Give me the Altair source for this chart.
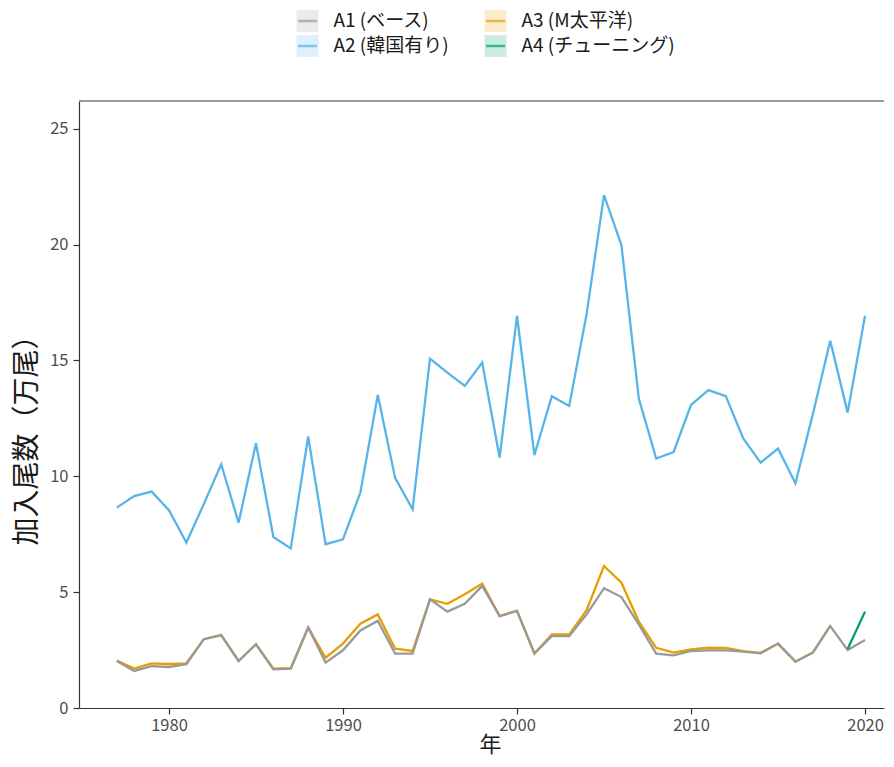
import altair as alt
import pandas as pd

years = list(range(1977, 2021))

names = ["A1 (ベース)", "A2 (韓国有り)", "A3 (M太平洋)", "A4 (チューニング)"]
colors = ["#999999", "#56B4E9", "#E69F00", "#009E73"]

a1 = [2.03, 1.60, 1.81, 1.77, 1.89, 2.97, 3.15, 2.03, 2.75, 1.67,
      1.70, 3.47, 1.96, 2.49, 3.35, 3.76, 2.35, 2.35, 4.69, 4.16,
      4.50, 5.27, 3.97, 4.19, 2.35, 3.10, 3.10, 4.04, 5.17, 4.79,
      3.61, 2.35, 2.27, 2.46, 2.49, 2.49, 2.43, 2.36, 2.78, 2.00,
      2.39, 3.54, 2.50, 2.94]

a2 = [8.65, 9.15, 9.34, 8.54, 7.14, 8.80, 10.52, 8.00, 11.43, 7.38,
      6.89, 11.72, 7.07, 7.28, 9.30, 13.51, 9.92, 8.58, 15.08, 14.48,
      13.90, 14.91, 10.81, 16.93, 10.92, 13.46, 13.04, 17.00, 22.14, 19.98,
      13.36, 10.77, 11.05, 13.08, 13.72, 13.46, 11.64, 10.59, 11.20, 9.70,
      12.68, 15.85, 12.75, 16.93]

a3_years = list(range(1977, 2019))
a3 = [2.05, 1.70, 1.93, 1.90, 1.93, 2.97, 3.15, 2.03, 2.75, 1.70,
      1.72, 3.47, 2.17, 2.78, 3.64, 4.04, 2.56, 2.46, 4.69, 4.50,
      4.91, 5.37, 3.97, 4.19, 2.35, 3.18, 3.18, 4.22, 6.13, 5.41,
      3.73, 2.60, 2.39, 2.53, 2.60, 2.59, 2.45, 2.38, 2.78, 2.00,
      2.39, 3.54]

a4_years = [2019, 2020]
a4 = [2.55, 4.16]

y_ticks = [0, 5, 10, 15, 20, 25]
x_ticks = [1980, 1990, 2000, 2010, 2020]

df1 = pd.DataFrame({"year": years, "value": a1, "series": names[0]})
df2 = pd.DataFrame({"year": years, "value": a2, "series": names[1]})
df3 = pd.DataFrame({"year": a3_years, "value": a3, "series": names[2]})
df4 = pd.DataFrame({"year": a4_years, "value": a4, "series": names[3]})

FONT = "Noto Sans CJK JP"
W = 805
H = 607

color_scale = alt.Scale(domain=names, range=colors)

x_enc = alt.X("year:Q", title="年",
              scale=alt.Scale(domain=[1974.83, 2021.09], nice=False, zero=False),
              axis=alt.Axis(values=x_ticks, format="d", grid=False, titleX=411))
y_enc = alt.Y("value:Q", title="加入尾数（万尾）",
              scale=alt.Scale(domain=[0, 26.2], nice=False, zero=True),
              axis=alt.Axis(values=y_ticks, grid=False, titleY=332))


def line_layer(d):
    return alt.Chart(d).mark_line(strokeWidth=2.3).encode(
        x=x_enc, y=y_enc,
        color=alt.Color("series:N", scale=color_scale, legend=None),
    )


top_rule = alt.Chart(df1).mark_rule(color="#9a9a9a", strokeWidth=1).encode(
    y=alt.value(0)
)

main = alt.layer(
    line_layer(df2), line_layer(df3), line_layer(df1), line_layer(df4), top_rule
).properties(width=W, height=H)

# manual legend (2 columns x 2 rows)
leg = pd.DataFrame({
    "series": names,
    "col": [i // 2 for i in range(len(names))],
    "row": [i % 2 for i in range(len(names))],
})
lx = alt.X("col:Q", axis=None, scale=alt.Scale(domain=[-1.2154, 3.0665], nice=False, zero=False))
ly = alt.Y("row:Q", axis=None, scale=alt.Scale(domain=[-0.52, 1.48], nice=False, zero=False, reverse=True))
lc = alt.Color("series:N", scale=color_scale, legend=None)

leg_box = alt.Chart(leg).mark_square(size=484, opacity=0.2, strokeWidth=0).encode(x=lx, y=ly, color=lc)
leg_line = alt.Chart(leg).mark_tick(orient="horizontal", size=19, thickness=2.5).encode(x=lx, y=ly, color=lc)
leg_text = alt.Chart(leg).mark_text(align="left", baseline="middle", dx=26, fontSize=19,
                                    font=FONT, color="#1a1a1a").encode(x=lx, y=ly, text="series:N")
legend = alt.layer(leg_box, leg_line, leg_text).properties(width=W, height=50)

chart = alt.vconcat(legend, main, spacing=42).properties(
    padding={"left": 5, "top": 0, "right": 0, "bottom": 0}
).configure_view(stroke=None).configure_axis(
    labelFont=FONT, titleFont=FONT, labelFontSize=16.5, labelColor="#4d4d4d",
    titleFontWeight="normal", titleColor="#1a1a1a",
    domainColor="#333333", domainWidth=1.2, tickColor="#333333", tickWidth=1.2,
    tickSize=6,
).configure_axisX(titlePadding=1, labelPadding=3, titleFontSize=22).configure_axisY(
    titlePadding=8, labelPadding=5, titleFontSize=28)

chart.save("out.html", embed_options={"renderer": "svg", "actions": False})
